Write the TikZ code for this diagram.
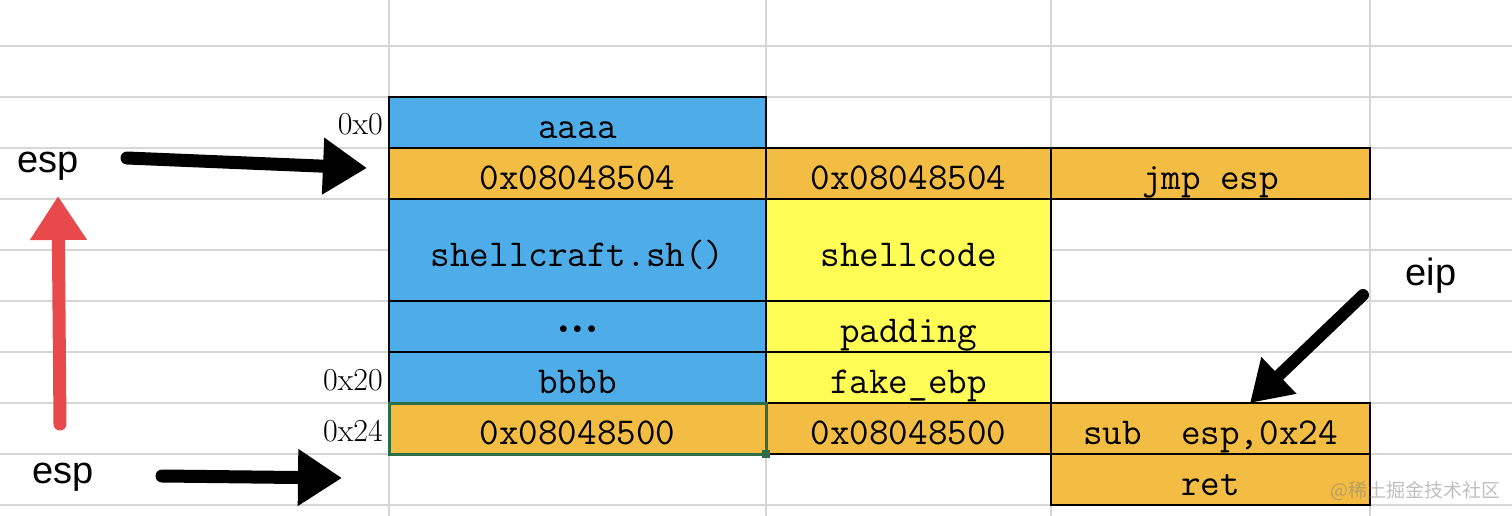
\documentclass[tikz,border=0pt]{standalone}
\usepackage{fontspec}
\newfontfamily\labelfont{Liberation Sans}
\newfontfamily\cjkfont{Noto Sans CJK SC}
\usetikzlibrary{arrows.meta}
\definecolor{cellblue}{RGB}{78,173,232}
\definecolor{cellorange}{RGB}{243,188,67}
\definecolor{cellyellow}{RGB}{255,252,85}
\definecolor{gridgray}{RGB}{214,214,214}
\definecolor{selgreen}{RGB}{46,110,70}
\definecolor{arrowred}{RGB}{232,73,75}
\tikzset{
  gridline/.style={gridgray, line width=1.5pt},
  cell/.style={draw=black, line width=1.5pt, inner sep=0pt, outer sep=0pt,
    minimum height=51pt, text height=32pt, text depth=0pt,
    font=\fontsize{38}{40}\selectfont\ttfamily},
  cola/.style={minimum width=377pt},
  colb/.style={minimum width=285pt},
  colc/.style={minimum width=319pt},
  tall/.style={minimum height=102pt},
  addr/.style={anchor=base east, inner sep=0pt, font=\fontsize{32}{34}\selectfont},
  reg/.style={anchor=base, inner sep=0pt, font=\fontsize{38}{40}\selectfont\labelfont},
  fatarrow/.style={line width=13pt, line cap=round, -{Triangle[length=44pt,width=54pt]}}
}
\newcommand{\celldots}{\raisebox{9pt}{\fontsize{16}{16}\selectfont$\bullet$\hspace{5.5pt}$\bullet$\hspace{5.5pt}$\bullet$}}
\begin{document}
\begin{tikzpicture}[x=1pt,y=-1pt]
	\useasboundingbox (0,0) rectangle (1512,516);
	% sheet grid
	\foreach \y in {46,97,...,505} \draw[gridline] (0,\y) -- (1512,\y);
	\foreach \x in {389,766,1051,1370} \draw[gridline] (\x,0) -- (\x,516);

	% payload column
	\node[cell, cola, fill=cellblue] (aaaa) at (577.5,122.5) {aaaa};
	\node[cell, cola, fill=cellorange] (jmpaddr) at (577.5,173.5) {0x08048504};
	\node[cell, cola, tall, fill=cellblue] (shcraft) at (577.5,250) {shellcraft.sh()};
	\node[cell, cola, fill=cellblue] (dots) at (577.5,326.5) {\celldots};
	\node[cell, cola, fill=cellblue] (bbbb) at (577.5,377.5) {bbbb};

	% stack column
	\node[cell, colb, fill=cellorange] (jmpaddrB) at (908.5,173.5) {0x08048504};
	\node[cell, colb, tall, fill=cellyellow] (shcode) at (908.5,250) {shellcode};
	\node[cell, colb, fill=cellyellow] (pad) at (908.5,326.5) {padding};
	\node[cell, colb, fill=cellyellow] (ebp) at (908.5,377.5) {fake\_ebp};
	\node[cell, colb, fill=cellorange] (subaddrB) at (908.5,428.5) {0x08048500};

	% code column
	\node[cell, colc, fill=cellorange] (jmp) at (1210.5,173.5) {jmp esp};
	\node[cell, colc, fill=cellorange] (sub) at (1210.5,428.5) {sub\ \ esp,0x24};
	\node[cell, colc, fill=cellorange] (ret) at (1210.5,479.5) {ret};

	% selected cell
	\node[cell, cola, fill=cellorange, draw=selgreen, line width=3pt] (subaddr) at (577.5,428.5) {0x08048500};
	\node[fill=selgreen, inner sep=0pt, minimum size=8pt] (handle) at (subaddr.south east) {};

	% offsets
	\node[addr] (off0) at (383,135) {0x0};
	\node[addr] (off20) at (383,390) {0x20};
	\node[addr] (off24) at (383,441) {0x24};

	% registers
	\node[reg] (esptop) at (48,172) {esp};
	\node[reg] (espbot) at (63,483) {esp};
	\node[reg] (eip) at (1431,285) {eip};

	\coordinate (esptail) at (127,158);
	\coordinate (esptip) at (367,168);
	\coordinate (espbtail) at (162,476);
	\coordinate (espbtip) at (342,478);
	\coordinate (redtail) at (60,424);
	\coordinate (redtip) at (58,196);
	\coordinate (eiptail) at (1363,295);
	\coordinate (eiptip) at (1250,403);
	\draw[fatarrow] (esptail) -- (esptip);
	\draw[fatarrow] (espbtail) -- (espbtip);
	\draw[fatarrow, arrowred] (redtail) -- (redtip);
	\draw[fatarrow, line width=12pt, -{Triangle[length=40pt,width=48pt]}] (eiptail) -- (eiptip);

	\node[anchor=base, inner sep=0pt, gray, opacity=0.5, font=\fontsize{19}{19}\selectfont\cjkfont] (mark) at (1415,497) {@稀土掘金技术社区};
\end{tikzpicture}
\end{document}
